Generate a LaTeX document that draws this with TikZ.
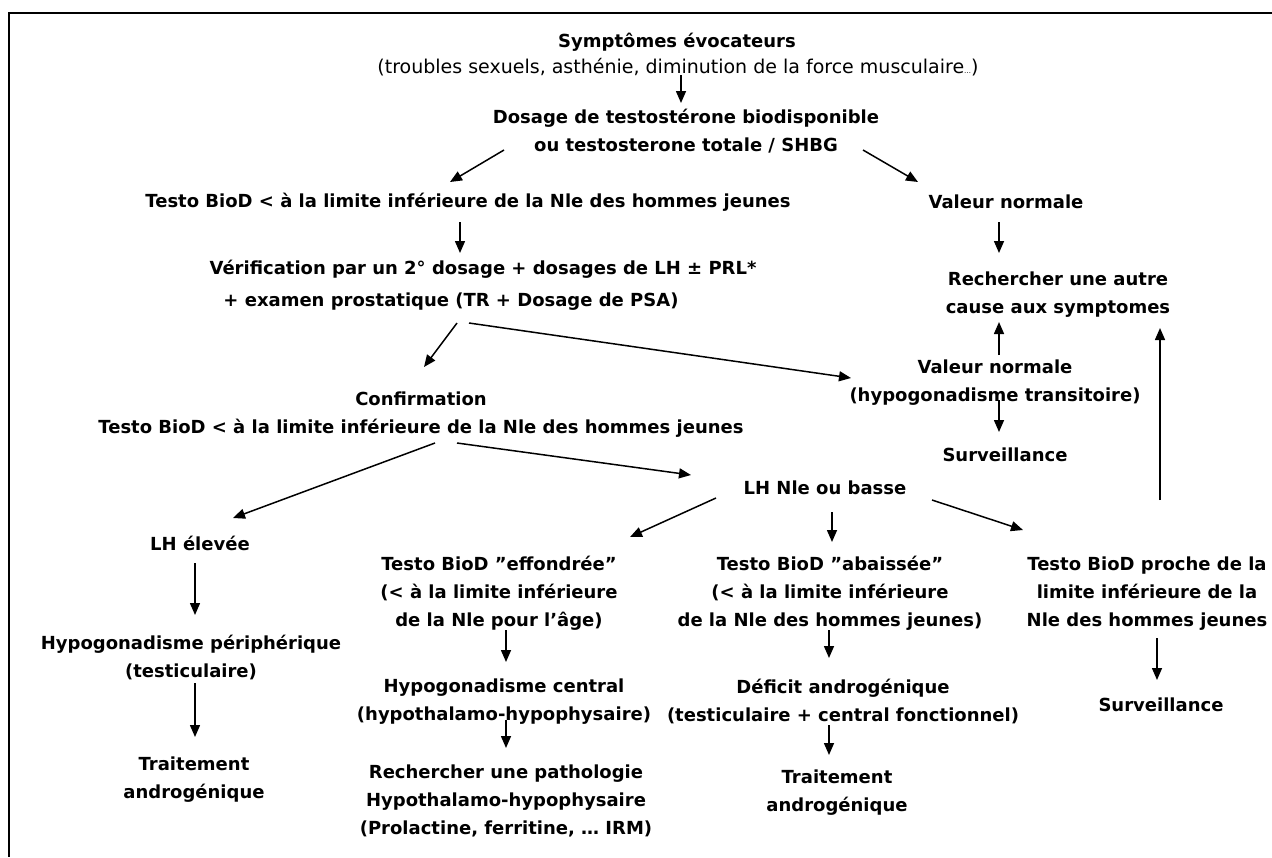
\documentclass[tikz,border=0pt]{standalone}
\usepackage{fontspec}
\setmainfont{DejaVu Sans}
\usetikzlibrary{arrows.meta}
\newcommand{\dq}{\symbol{34}}
\newcommand{\sq}{\symbol{39}}
\begin{document}
\begin{tikzpicture}[x=1pt,y=-1pt,
  txt/.style={font=\bfseries\fontsize{18}{28}\selectfont, align=center, inner sep=0pt},
  plain/.style={font=\fontsize{19}{28}\selectfont, align=center, inner sep=0pt},
  arr/.style={-{Triangle[length=12pt,width=10pt]}, line width=1.5pt},
  frame/.style={line width=2pt}]
\useasboundingbox (0,0) rectangle (1272,857);
\draw[frame] (1272,13) -- (9,13) -- (9,857);

\node[txt]   (sym1)  at (677,42)  {Symptômes évocateurs};
\node[plain] (sym2)  at (678,67)  {(troubles sexuels, asthénie, diminution de la force musculaire{\scriptsize…})};
\node[txt]   (dose)  at (686,131) {Dosage de testostérone biodisponible\\ou testosterone totale / SHBG};
\node[txt]   (low1)  at (468,202) {Testo BioD < à la limite inférieure de la Nle des hommes jeunes};
\node[txt]   (vn1)   at (1006,202) {Valeur normale};
\node[txt]   (ver1)  at (483,269) {Vérification par un 2° dosage + dosages de LH ± PRL*};
\node[txt]   (ver2)  at (451,302) {+ examen prostatique (TR + Dosage de PSA)};
\node[txt]   (autre) at (1058,295) {Rechercher une autre\\cause aux symptomes};
\node[txt]   (vn2)   at (995,382.5) {Valeur normale\\(hypogonadisme transitoire)};
\node[txt]   (surv1) at (1005,455) {Surveillance};
\node[txt]   (conf)  at (421,415) {Confirmation\\Testo BioD < à la limite inférieure de la Nle des hommes jeunes};
\node[txt]   (lhn)   at (825,488) {LH Nle ou basse};
\node[txt]   (lhe)   at (200,543) {LH élevée};
\node[txt]   (eff)   at (499,593) {Testo BioD \dq effondrée\dq\\(< à la limite inférieure\\de la Nle pour l\sq âge)};
\node[txt]   (aba)   at (830,593) {Testo BioD \dq abaissée\dq\\(< à la limite inférieure\\de la Nle des hommes jeunes)};
\node[txt]   (proche) at (1147,594) {Testo BioD proche de la\\limite inférieure de la\\Nle des hommes jeunes};
\node[txt]   (hyper) at (191,657.5) {Hypogonadisme périphérique\\(testiculaire)};
\node[txt]   (trt1)  at (194,780) {Traitement\\androgénique};
\node[txt]   (cent)  at (504,701.5) {Hypogonadisme central\\(hypothalamo-hypophysaire)};
\node[txt]   (rech)  at (506,801) {Rechercher une pathologie\\Hypothalamo-hypophysaire\\(Prolactine, ferritine, … IRM)};
\node[txt]   (def)   at (843,701) {Déficit androgénique\\(testiculaire + central fonctionnel)};
\node[txt]   (trt2)  at (837,792.5) {Traitement\\androgénique};
\node[txt]   (surv2) at (1161,705) {Surveillance};

\draw[arr] ([shift={(3,8)}]sym2.center) -- ([shift={(-5,-28)}]dose.center);
\draw[arr] ([shift={(-182,19)}]dose.center) -- ([shift={(-18,-20)}]low1.center);
\draw[arr] ([shift={(177,19)}]dose.center) -- ([shift={(-88,-20)}]vn1.center);
\draw[arr] ([shift={(-8,20)}]low1.center) -- ([shift={(-23,-16)}]ver1.center);
\draw[arr] ([shift={(-7,20)}]vn1.center) -- ([shift={(-59,-42)}]autre.center);
\draw[arr] ([shift={(6,21)}]ver2.center) -- ([shift={(3,-48)}]conf.center);
\draw[arr] ([shift={(18,21)}]ver2.center) -- ([shift={(-144,-4.5)}]vn2.center);
\draw[arr] ([shift={(4,-27.5)}]vn2.center) -- ([shift={(-59,27)}]autre.center);
\draw[arr] ([shift={(4,17.5)}]vn2.center) -- ([shift={(-6,-23)}]surv1.center);
\draw[arr] ([shift={(14,28)}]conf.center) -- ([shift={(33,-25)}]lhe.center);
\draw[arr] ([shift={(36,28)}]conf.center) -- ([shift={(-134,-13)}]lhn.center);
\draw[arr] ([shift={(-109,10)}]lhn.center) -- ([shift={(131,-56)}]eff.center);
\draw[arr] ([shift={(7,24)}]lhn.center) -- ([shift={(2,-51)}]aba.center);
\draw[arr] ([shift={(107,12)}]lhn.center) -- ([shift={(-124,-64)}]proche.center);
\draw[arr] ([shift={(13,-94)}]proche.center) -- ([shift={(102,33)}]autre.center);
\draw[arr] ([shift={(-5,20)}]lhe.center) -- ([shift={(4,-42.5)}]hyper.center);
\draw[arr] ([shift={(7,37)}]eff.center) -- ([shift={(2,-39.5)}]cent.center);
\draw[arr] ([shift={(-1,37)}]aba.center) -- ([shift={(-14,-43)}]def.center);
\draw[arr] ([shift={(10,44)}]proche.center) -- ([shift={(-4,-25)}]surv2.center);
\draw[arr] ([shift={(4,25.5)}]hyper.center) -- ([shift={(1,-43)}]trt1.center);
\draw[arr] ([shift={(2,18.5)}]cent.center) -- ([shift={(0,-53)}]rech.center);
\draw[arr] ([shift={(-14,24)}]def.center) -- ([shift={(-8,-37.5)}]trt2.center);
\end{tikzpicture}
\end{document}
